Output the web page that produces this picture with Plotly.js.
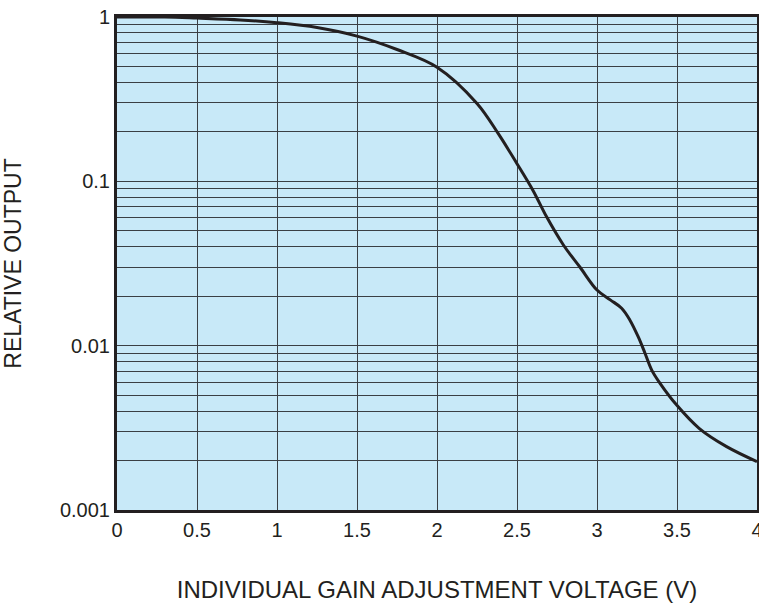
<!DOCTYPE html>
<html>
<head>
<meta charset="utf-8">
<script src="https://cdn.plot.ly/plotly-3.0.1.min.js"></script>
<style>html,body{margin:0;padding:0;background:#fff;}#chart{width:759px;height:603px;}</style>
</head>
<body>
<div id="chart"></div>
<script>
var voltage = [0, 0.3, 0.5, 0.77, 1.0, 1.25, 1.5, 1.75, 2.0, 2.25, 2.383, 2.5, 2.6, 2.685, 2.79, 2.894, 3.0, 3.083, 3.154, 3.206, 3.258, 3.3, 3.342, 3.394, 3.498, 3.64, 3.81, 4.0];
var relOutput = [1.0, 1.0, 0.985, 0.96, 0.923, 0.863, 0.765, 0.634, 0.495, 0.298, 0.195, 0.128, 0.088, 0.0608, 0.041, 0.030, 0.0218, 0.019, 0.0169, 0.0143, 0.0113, 0.009, 0.0071, 0.0059, 0.00435, 0.00313, 0.00243, 0.00197];
var xTickVals = [0, 0.5, 1, 1.5, 2, 2.5, 3, 3.5, 4];
var xTickText = ['0', '0.5', '1', '1.5', '2', '2.5', '3', '3.5', '4'];
var decades = [0.001, 0.01, 0.1, 1];
var decadeLabels = ['0.001', '0.01', '0.1', '1'];

var yTickVals = [], yTickText = [];
for (var d = 0; d < decades.length; d++) {
  var lim = (d === decades.length - 1) ? 1 : 9;
  for (var m = 1; m <= lim; m++) {
    yTickVals.push(decades[d] * m);
    yTickText.push(m === 1 ? decadeLabels[d] : '');
  }
}

var ink = '#231f20';
var trace = {
  x: voltage, y: relOutput, type: 'scatter', mode: 'lines',
  line: {color: ink, width: 3, shape: 'spline', smoothing: 1},
  hoverinfo: 'skip'
};
var layout = {
  width: 759, height: 603,
  margin: {l: 117, r: 2, t: 17, b: 93},
  paper_bgcolor: '#ffffff',
  plot_bgcolor: '#c8e9f8',
  showlegend: false,
  font: {family: '"Liberation Sans", Arial, sans-serif', size: 20, color: ink},
  xaxis: {
    range: [0, 4], tickvals: xTickVals, ticktext: xTickText,
    showgrid: true, gridcolor: '#3a3f44', gridwidth: 1,
    zeroline: false, ticks: '', ticklen: 0,
    showline: true, mirror: true, linecolor: ink, linewidth: 3,
    tickfont: {size: 20, color: ink},
    ticklabeloverflow: 'allow',
    title: {text: 'INDIVIDUAL GAIN ADJUSTMENT VOLTAGE (V)', font: {size: 24, color: ink}, standoff: 42}
  },
  yaxis: {
    type: 'log', range: [-3, 0], tickvals: yTickVals, ticktext: yTickText,
    showgrid: true, gridcolor: '#3a3f44', gridwidth: 1,
    zeroline: false, ticks: '', ticklen: 0,
    showline: true, mirror: true, linecolor: ink, linewidth: 3,
    tickfont: {size: 20, color: ink},
    title: {text: 'RELATIVE OUTPUT', font: {size: 23, color: ink}, standoff: 32}
  }
};
Plotly.newPlot('chart', [trace], layout, {displayModeBar: false, staticPlot: true});
</script>
</body>
</html>
